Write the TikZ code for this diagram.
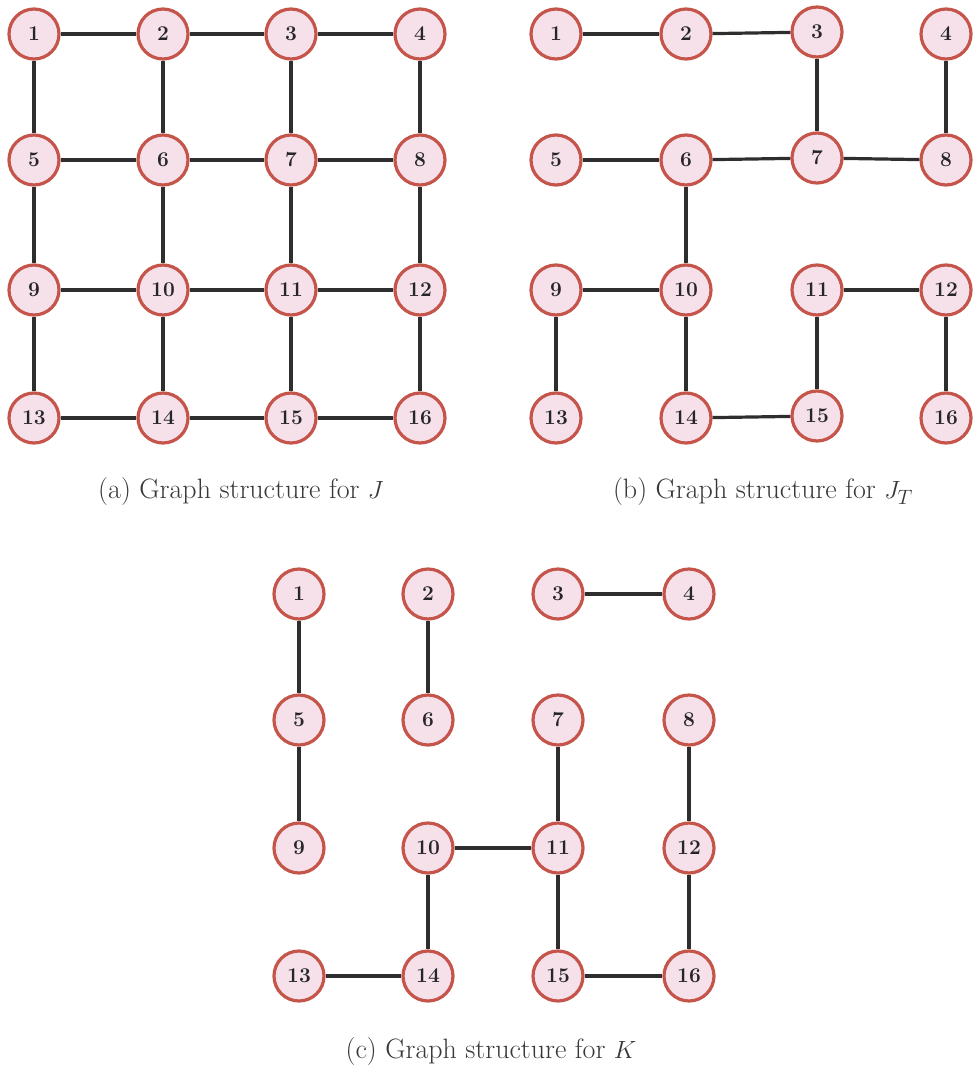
\documentclass[tikz,border=0pt]{standalone}
\usepackage{xcolor}
\definecolor{nodefill}{HTML}{F6E1EA}
\definecolor{nodeedge}{HTML}{C5544A}
\definecolor{edgecol}{HTML}{2E2E2E}
\begin{document}
\begin{tikzpicture}[x=1pt,y=-1pt,
  gnode/.style={circle,draw=nodeedge,fill=nodefill,line width=3.2pt,minimum size=50pt,inner sep=0pt,font=\fontsize{21}{21}\selectfont\bfseries,text=black!85},
  gedge/.style={draw=edgecol,line width=3.2pt},
  caption/.style={font=\fontsize{28}{30}\selectfont,text=black!78}]
\useasboundingbox (0,0) rectangle (977,1079);
% graph (a)
\foreach \n/\x/\y in {1/34/34,2/163/34,3/291/34,4/420/34,5/34/160,6/163/160,7/291/160,8/420/160,9/34/290,10/163/290,11/291/290,12/420/290,13/34/418,14/163/418,15/291/418,16/420/418}
  \node[gnode] (a\n) at (\x,\y) {\n};
\foreach \u/\v in {1/2,2/3,3/4,5/6,6/7,7/8,9/10,10/11,11/12,13/14,14/15,15/16,1/5,5/9,9/13,2/6,6/10,10/14,3/7,7/11,11/15,4/8,8/12,12/16}
  \path[gedge] (a\u) -- (a\v);
\node[caption] (capa) at (241,492) {(a) Graph structure for $J$};
% graph (b)
\foreach \n/\x/\y in {1/556/34,2/686/34,3/817/32,4/946/34,5/556/160,6/686/160,7/817/158,8/946/160,9/556/290,10/686/290,11/817/290,12/946/290,13/556/418,14/686/418,15/817/416,16/946/418}
  \node[gnode] (b\n) at (\x,\y) {\n};
\foreach \u/\v in {1/2,2/3,3/7,4/8,5/6,6/7,7/8,6/10,9/10,10/14,9/13,14/15,11/15,11/12,12/16}
  \path[gedge] (b\u) -- (b\v);
\node[caption] (capb) at (763,492) {(b) Graph structure for $J_T$};
% graph (c)
\foreach \n/\x/\y in {1/299/594,2/428/594,3/558/594,4/689/594,5/299/720,6/428/720,7/558/720,8/689/720,9/299/848,10/428/848,11/558/848,12/689/848,13/299/976,14/428/976,15/558/976,16/689/976}
  \node[gnode] (c\n) at (\x,\y) {\n};
\foreach \u/\v in {1/5,5/9,2/6,3/4,7/11,8/12,10/11,10/14,11/15,12/16,13/14,15/16}
  \path[gedge] (c\u) -- (c\v);
\node[caption] (capc) at (491,1052) {(c) Graph structure for $K$};
\end{tikzpicture}
\end{document}
